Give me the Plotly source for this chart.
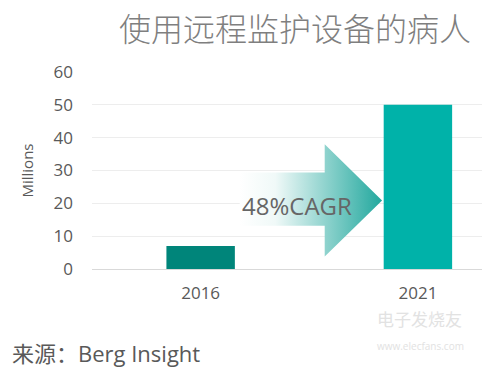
import plotly.graph_objects as go

# Data
categories = ["2016", "2021"]
values = [7, 50]
bar_colors = ["#00857A", "#00B2A9"]
y_ticks = [0, 10, 20, 30, 40, 50, 60]

title_text = "使用远程监护设备的病人"
cagr_text = "48%CAGR"
source_text = "来源：Berg Insight"

# Decorative arrow outline (category index / value units)
arrow_x = [0.18, 0.571, 0.571, 0.835, 0.571, 0.571, 0.18, 0.18]
arrow_y = [29.4, 29.4, 38.0, 20.9, 3.8, 13.2, 13.2, 29.4]

FONT = "Open Sans, Noto Sans CJK SC, sans-serif"
GREY = "#595959"
PH = 197.3  # plot height in px
PW = 390

fig = go.Figure()

fig.add_trace(go.Bar(
    x=[0, 1], y=values, marker=dict(color=bar_colors, line=dict(width=0)),
    width=0.315, hoverinfo="skip", showlegend=False,
))

fig.add_trace(go.Scatter(
    x=arrow_x, y=arrow_y, mode="lines", fill="toself",
    line=dict(width=0, color="rgba(0,0,0,0)"),
    fillgradient=dict(type="horizontal",
                      colorscale=[[0, "rgba(255,255,255,1)"],
                                  [0.25, "rgba(240,249,248,1)"],
                                  [1, "#22A89E"]]),
    hoverinfo="skip", showlegend=False,
))

fig.add_annotation(x=0.445, y=19.2, xref="x", yref="y", text=cagr_text,
                   showarrow=False, font=dict(family=FONT, size=24, color="#666666"))

fig.add_annotation(x=(473 - 92) / PW, y=1 + (72 - 27) / PH, xref="paper", yref="paper",
                   xanchor="right", yanchor="middle", text=title_text, showarrow=False,
                   font=dict(family="Noto Sans CJK SC", size=32, color="#7f7f7f", weight=300))

fig.add_annotation(x=(10 - 92) / PW, y=-(353 - 269.3) / PH, xref="paper", yref="paper",
                   text=source_text, showarrow=False, xanchor="left", yanchor="middle",
                   font=dict(family=FONT, size=22, color=GREY))

fig.add_annotation(x=(375 - 92) / PW, y=-(333 - 269.3) / PH, xref="paper",
                   yref="paper", text="电子发烧友", showarrow=False, xanchor="left",
                   font=dict(family="Noto Sans CJK SC", size=17, color="#E2E2E2"))
fig.add_annotation(x=(375 - 92) / PW, y=-(355 - 269.3) / PH, xref="paper",
                   yref="paper", text="www.elecfans.com", showarrow=False,
                   xanchor="left",
                   font=dict(family=FONT, size=10, color="#E2E2E2"))

fig.update_layout(
    width=482, height=371,
    margin=dict(l=92, r=0, t=72, b=102, autoexpand=False),
    paper_bgcolor="white", plot_bgcolor="white",
    hovermode=False,
    xaxis=dict(range=[-0.5, 1.295], tickmode="array", tickvals=[0, 1],
               ticktext=categories, showgrid=False, zeroline=False,
               showline=False, ticks="", ticklen=0, ticklabelstandoff=12,
               tickfont=dict(family=FONT, size=17, color=GREY)),
    yaxis=dict(range=[0, 60], tickvals=y_ticks, showgrid=True,
               gridcolor="#EDEDED", gridwidth=1, zeroline=True,
               zerolinecolor="#D9D9D9", zerolinewidth=1, showline=False,
               ticks="", ticklabelstandoff=18,
               tickfont=dict(family=FONT, size=17, color=GREY),
               title=dict(text="Millions", standoff=16,
                          font=dict(family=FONT, size=15, color=GREY))),
)

fig.write_html("out.html", config={"displayModeBar": False},
               post_script="document.body.style.margin='0';")
